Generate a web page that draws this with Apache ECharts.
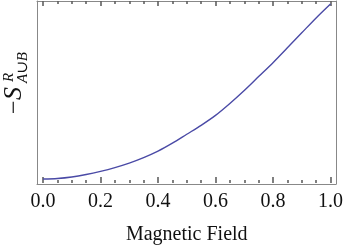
<!DOCTYPE html>
<html><head><meta charset="utf-8">
<script src="https://cdn.jsdelivr.net/npm/echarts@6/dist/echarts.min.js"></script>
<style>html,body{margin:0;padding:0;background:#fff}#c{width:346px;height:250px}</style>
</head><body><div id="c"></div>
<script>
// Magnetic field values (x) and curve values (arbitrary units)
const field = [0,0.05,0.1,0.15,0.2,0.25,0.3,0.35,0.4,0.45,0.5,0.55,0.6,0.65,0.7,0.75,0.8,0.85,0.9,0.95,1.0];
const entropy = [4,4.5,6,8.5,11.7,15.5,20,25.5,32,40,49,58,68,80,93,107,121,136,151,166,180];
const xTickStep = 0.2;

const fontFam = '"Liberation Serif","DejaVu Serif",serif';
const frame = '#888888';
const tickColor = '#606060';

function xAx(pos, tickLen, labels, extra) {
  return Object.assign({
    type: 'value', gridIndex: 0, position: pos, min: 0, max: 1, interval: xTickStep,
    axisLine: {show: false},
    splitLine: {show: false},
    axisTick: {show: true, inside: true, length: tickLen, lineStyle: {color: tickColor, width: 1.6}},
    minorTick: {show: true, splitNumber: 4, length: Math.round(tickLen / 2), lineStyle: {color: tickColor, width: 1.6}},
    axisLabel: labels ? {show: true, fontFamily: fontFam, fontSize: 20, color: '#111', margin: 9,
      formatter: v => v.toFixed(1)} : {show: false}
  }, extra || {});
}
function frameAx(pos) {
  return {type: 'value', gridIndex: 1, position: pos, min: 0, max: 1,
    axisLine: {show: true, onZero: false, lineStyle: {color: frame, width: 1}},
    axisTick: {show: false}, axisLabel: {show: false}, splitLine: {show: false}};
}

const chart = echarts.init(document.getElementById('c'), null, {renderer: 'canvas'});
chart.setOption({
  animation: false,
  grid: [
    {left: 43, right: 15, top: 1, bottom: 66, show: false},
    {left: 37, right: 10, top: 1, bottom: 66, show: false}
  ],
  xAxis: [
    xAx('bottom', 6, true, {name: 'Magnetic Field', nameLocation: 'middle', nameGap: 42,
      nameTextStyle: {fontFamily: fontFam, fontSize: 20, color: '#111'}}),
    xAx('top', 5, false),
    frameAx('bottom'),
    frameAx('top')
  ],
  yAxis: [
    {type: 'value', gridIndex: 0, min: 0, max: 183, show: false},
    frameAx('left'),
    frameAx('right')
  ],
  series: [{
    type: 'line', xAxisIndex: 0, yAxisIndex: 0, data: field.map((f, i) => [f, entropy[i]]),
    smooth: 0.3, showSymbol: false, clip: false, lineStyle: {color: '#4a4aa6', width: 1.4}
  }],
  graphic: [{
    type: 'group', x: 27, y: 114, rotation: Math.PI / 2,
    children: [
      {type: 'text', x: 0, y: 0, style: {text: '− ', fontFamily: fontFam, fontSize: 24, fill: '#111', verticalAlign: 'bottom'}},
      {type: 'text', x: 14, y: 0, style: {text: 'S', fontFamily: fontFam, fontStyle: 'italic', fontSize: 26, fill: '#111', verticalAlign: 'bottom'}},
      {type: 'text', x: 32, y: -10, style: {text: 'R', fontFamily: fontFam, fontStyle: 'italic', fontSize: 15, fill: '#111', verticalAlign: 'bottom'}},
      {type: 'text', x: 31, y: 4, style: {text: 'A∪B', fontFamily: fontFam, fontStyle: 'italic', fontSize: 15, fill: '#111', verticalAlign: 'bottom'}}
    ]
  }]
});
</script></body></html>
